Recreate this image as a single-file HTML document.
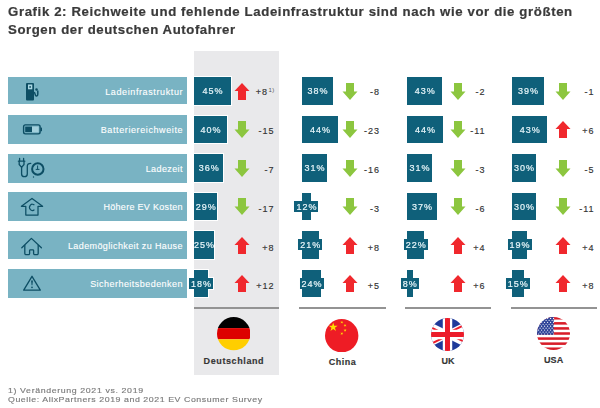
<!DOCTYPE html>
<html><head><meta charset="utf-8">
<style>
*{margin:0;padding:0;box-sizing:border-box}
html,body{width:600px;height:408px;overflow:hidden;background:#fff}
body{position:relative;font-family:"Liberation Sans",sans-serif;color:#333}
.a{position:absolute}
.t{position:absolute;left:8px;font-weight:bold;font-size:12px;color:#3a3a3a;white-space:nowrap;line-height:14px;letter-spacing:0.52px;transform:scaleX(1.1);transform-origin:0 0;-webkit-text-stroke:0.2px #3a3a3a}
.t1{letter-spacing:0.56px}
.gcol{position:absolute;left:194px;top:50.5px;width:85px;height:324.5px;background:#e9e9eb}
.lb{position:absolute;left:8px;width:179px;background:#79b3c3}
.lt{position:absolute;right:5px;color:#fff;font-size:9px;white-space:nowrap;line-height:11px;-webkit-text-stroke:0.12px #fff}
.cell{position:absolute;left:0;top:0;filter:drop-shadow(1px 0 0 #fff) drop-shadow(-1px 0 0 #fff) drop-shadow(0 1px 0 #fff) drop-shadow(0 -1px 0 #fff)}
.bx{position:absolute;height:27.8px;background:#0f607a}
.pt{position:absolute;color:#e8f6fa;font-size:9px;line-height:9.6px;height:11px;padding-top:2.3px;letter-spacing:1px;white-space:nowrap;padding-left:2px;padding-right:1px;transform:translateX(-50%);-webkit-text-stroke:0.2px #e8f6fa}
.bgx{background:#0f607a}
.v{position:absolute;font-size:9px;color:#333;white-space:nowrap;line-height:11px;text-align:right;letter-spacing:1px;-webkit-text-stroke:0.15px #333}
.sep{position:absolute;top:307.2px;height:1.8px;background:#939393}
.fn{position:absolute;font-weight:bold;font-size:9px;color:#353535;white-space:nowrap;line-height:11px;-webkit-text-stroke:0.15px #353535}
.foot{position:absolute;left:8px;font-size:8px;color:#7a7a7a;white-space:nowrap;line-height:9px;letter-spacing:0.5px;transform:scaleX(1.1);transform-origin:0 0;-webkit-text-stroke:0.15px #7a7a7a}
</style></head><body>
<div class="t t1" style="top:5px">Grafik 2: Reichweite und fehlende Ladeinfrastruktur sind nach wie vor die größten</div>
<div class="t" style="top:23px">Sorgen der deutschen Autofahrer</div>
<div class="gcol"></div>
<div class="lb" style="top:77.3px;height:26.5px"><span class="lt" style="top:9.38px;letter-spacing:0.61px;right:3.89px">Ladeinfrastruktur</span></div>
<div class="lb" style="top:115px;height:28.5px"><span class="lt" style="top:10.18px;letter-spacing:0.6px;right:3.90px">Batteriereichweite</span></div>
<div class="lb" style="top:154px;height:28.5px"><span class="lt" style="top:9.68px;letter-spacing:0.4px;right:4.10px">Ladezeit</span></div>
<div class="lb" style="top:192px;height:28.5px"><span class="lt" style="top:9.68px;letter-spacing:0.3px;right:4.20px">Höhere EV Kosten</span></div>
<div class="lb" style="top:231px;height:28px"><span class="lt" style="top:9.68px;letter-spacing:0.39px;right:4.11px">Lademöglichkeit zu Hause</span></div>
<div class="lb" style="top:269px;height:28.5px"><span class="lt" style="top:9.68px;letter-spacing:0.46px;right:4.04px">Sicherheitsbedenken</span></div>

<svg class="a" style="left:0;top:0" width="60" height="300" viewBox="0 0 60 300">
 <!-- fuel pump -->
 <rect x="26" y="83" width="8" height="17.5" rx="1" fill="#0d4e64"/>
 <rect x="28" y="84.5" width="4.3" height="4.8" fill="#a9d6e2"/>
 <circle cx="30.1" cy="86.9" r="0.9" fill="#0d4e64"/>
 <path d="M33.6 92.2 C35 92.2 35.1 93.6 35.3 94.8 C35.6 96.4 37.8 96.4 37.8 94.2 V91" fill="none" stroke="#0d4e64" stroke-width="1.5" stroke-linecap="round"/>
 <circle cx="36.5" cy="89.5" r="1.25" fill="#0d4e64"/>
 <!-- battery -->
 <rect x="23.6" y="124.9" width="16.5" height="9" rx="1.8" fill="none" stroke="#0d4e64" stroke-width="1.4"/>
 <rect x="25.2" y="126.6" width="6.8" height="5.5" fill="#0d4e64"/>
 <rect x="32" y="126.6" width="6.6" height="5.5" fill="#a3d0dc"/>
 <rect x="40.6" y="127.6" width="1.4" height="3.6" fill="#0d4e64"/>
 <!-- plug + clock -->
 <g fill="none" stroke="#0d4e64" stroke-width="1.3" stroke-linecap="round" stroke-linejoin="round">
  <path d="M19.6 158.4V160.8M23.6 158.4V160.8"/>
  <path d="M18.4 161.2H24.8M19.2 161.2V164.5L21.6 167.4L24 164.5V161.2"/>
  <path d="M21.6 167.4V174Q21.6 176.7 24.4 176.7Q27.3 176.7 27.3 174V166Q27.3 163.3 30.8 163.3"/>
  <circle cx="37.8" cy="169" r="5.7" stroke-width="2"/>
  <path d="M37.6 165.9V169.2M36.1 169.4H39.1" stroke-width="1"/>
 </g>
 <circle cx="33.5" cy="177" r="0.7" fill="#0d4e64"/>
 <!-- house with C -->
 <path d="M25.8 215V206.3H21.4L32 198.5L42.6 206.3H38V215Z" fill="none" stroke="#0d4e64" stroke-width="1.25" stroke-linejoin="round"/>
 <path d="M34.4 205.2A2.8 3.2 0 1 0 34.4 209.6" fill="none" stroke="#0d4e64" stroke-width="1.15"/>
 <!-- house -->
 <path d="M21.8 247.8L31.4 238.4L41.4 247.8" fill="none" stroke="#0d4e64" stroke-width="1.3" stroke-linecap="round" stroke-linejoin="round"/>
 <path d="M24.8 245V253.6Q24.8 254.6 25.8 254.6H28.8Q29.6 254.6 29.6 253.6V250.6Q29.6 249.8 30.4 249.8H32.8Q33.6 249.8 33.6 250.6V253.6Q33.6 254.6 34.6 254.6H37.2Q38.2 254.6 38.2 253.6V245" fill="none" stroke="#0d4e64" stroke-width="1.3" stroke-linejoin="round"/>
 <!-- warning -->
 <path d="M32 276.3L40.3 290.2H23.7Z" fill="none" stroke="#0d4e64" stroke-width="1.3" stroke-linejoin="round"/>
 <path d="M31.1 280.6H32.9L32.4 285.2H31.6Z" fill="#0d4e64"/>
 <circle cx="32" cy="287.3" r="0.85" fill="#0d4e64"/>
</svg>
<div class="cell"><div class="bx" style="left:194px;top:77px;width:37.1px"></div><div class="pt" style="left:212.6px;top:85.20px">45%</div></div>
<svg class="a" style="left:233.8px;top:82.5px" width="16" height="17" viewBox="0 0 16 17"><path d="M8 0L15.5 8H12V17H4V8H0.5Z" fill="#f0282d"/></svg>
<div class="v" style="right:325.5px;top:87.4px">+8<span style="font-size:6px;position:relative;top:-3px;margin-left:0.5px;letter-spacing:0.3px;color:#555;-webkit-text-stroke:0">1)</span></div>
<div class="cell"><div class="bx" style="left:194px;top:115.5px;width:32.8px"></div><div class="pt" style="left:210.4px;top:123.70px">40%</div></div>
<svg class="a" style="left:233.8px;top:121.0px" width="16" height="17" viewBox="0 0 16 17"><path d="M4 0H12V8.5H15.5L8 17L0.5 8.5H4Z" fill="#8cc63f"/></svg>
<div class="v" style="right:325.5px;top:126.0px">-15</div>
<div class="cell"><div class="bx" style="left:194px;top:154px;width:29.4px"></div><div class="pt" style="left:208.7px;top:162.20px">36%</div></div>
<svg class="a" style="left:233.8px;top:159.5px" width="16" height="17" viewBox="0 0 16 17"><path d="M4 0H12V8.5H15.5L8 17L0.5 8.5H4Z" fill="#8cc63f"/></svg>
<div class="v" style="right:325.5px;top:165.0px">-7</div>
<div class="cell"><div class="bx" style="left:194px;top:192.5px;width:23.4px"></div><div class="pt" style="left:205.7px;top:200.70px">29%</div></div>
<svg class="a" style="left:233.8px;top:198.0px" width="16" height="17" viewBox="0 0 16 17"><path d="M4 0H12V8.5H15.5L8 17L0.5 8.5H4Z" fill="#8cc63f"/></svg>
<div class="v" style="right:325.5px;top:203.8px">-17</div>
<div class="cell"><div class="bx" style="left:194px;top:231px;width:20.0px"></div><div class="pt" style="left:204.0px;top:239.20px">25%</div></div>
<svg class="a" style="left:233.8px;top:236.5px" width="16" height="17" viewBox="0 0 16 17"><path d="M8 0L15.5 8H12V17H4V8H0.5Z" fill="#f0282d"/></svg>
<div class="v" style="right:325.5px;top:242.8px">+8</div>
<div class="cell"><div class="bx" style="left:194px;top:269.5px;width:14.0px"></div><div class="pt bgx" style="left:201.0px;top:277.70px">18%</div></div>
<svg class="a" style="left:233.8px;top:275.0px" width="16" height="17" viewBox="0 0 16 17"><path d="M8 0L15.5 8H12V17H4V8H0.5Z" fill="#f0282d"/></svg>
<div class="v" style="right:325.5px;top:281.4px">+12</div>
<div class="cell"><div class="bx" style="left:302px;top:77px;width:31.1px"></div><div class="pt" style="left:317.6px;top:85.20px">38%</div></div>
<svg class="a" style="left:341.8px;top:82.5px" width="16" height="17" viewBox="0 0 16 17"><path d="M4 0H12V8.5H15.5L8 17L0.5 8.5H4Z" fill="#8cc63f"/></svg>
<div class="v" style="right:220.0px;top:87.4px">-8</div>
<div class="cell"><div class="bx" style="left:302px;top:115.5px;width:36.3px"></div><div class="pt" style="left:320.1px;top:123.70px">44%</div></div>
<svg class="a" style="left:341.8px;top:121.0px" width="16" height="17" viewBox="0 0 16 17"><path d="M4 0H12V8.5H15.5L8 17L0.5 8.5H4Z" fill="#8cc63f"/></svg>
<div class="v" style="right:220.0px;top:126.0px">-23</div>
<div class="cell"><div class="bx" style="left:302px;top:154px;width:25.1px"></div><div class="pt" style="left:314.6px;top:162.20px">31%</div></div>
<svg class="a" style="left:341.8px;top:159.5px" width="16" height="17" viewBox="0 0 16 17"><path d="M4 0H12V8.5H15.5L8 17L0.5 8.5H4Z" fill="#8cc63f"/></svg>
<div class="v" style="right:220.0px;top:165.0px">-16</div>
<div class="cell"><div class="bx" style="left:302px;top:192.5px;width:8.9px"></div><div class="pt bgx" style="left:306.4px;top:200.70px">12%</div></div>
<svg class="a" style="left:341.8px;top:198.0px" width="16" height="17" viewBox="0 0 16 17"><path d="M4 0H12V8.5H15.5L8 17L0.5 8.5H4Z" fill="#8cc63f"/></svg>
<div class="v" style="right:220.0px;top:203.8px">-3</div>
<div class="cell"><div class="bx" style="left:302px;top:231px;width:16.6px"></div><div class="pt bgx" style="left:310.3px;top:239.20px">21%</div></div>
<svg class="a" style="left:341.8px;top:236.5px" width="16" height="17" viewBox="0 0 16 17"><path d="M8 0L15.5 8H12V17H4V8H0.5Z" fill="#f0282d"/></svg>
<div class="v" style="right:220.0px;top:242.8px">+8</div>
<div class="cell"><div class="bx" style="left:302px;top:269.5px;width:19.2px"></div><div class="pt bgx" style="left:311.6px;top:277.70px">24%</div></div>
<svg class="a" style="left:341.8px;top:275.0px" width="16" height="17" viewBox="0 0 16 17"><path d="M8 0L15.5 8H12V17H4V8H0.5Z" fill="#f0282d"/></svg>
<div class="v" style="right:220.0px;top:281.4px">+5</div>
<div class="cell"><div class="bx" style="left:407px;top:77px;width:35.4px"></div><div class="pt" style="left:424.7px;top:85.20px">43%</div></div>
<svg class="a" style="left:449.5px;top:82.5px" width="16" height="17" viewBox="0 0 16 17"><path d="M4 0H12V8.5H15.5L8 17L0.5 8.5H4Z" fill="#8cc63f"/></svg>
<div class="v" style="right:114.5px;top:87.4px">-2</div>
<div class="cell"><div class="bx" style="left:407px;top:115.5px;width:36.3px"></div><div class="pt" style="left:425.1px;top:123.70px">44%</div></div>
<svg class="a" style="left:449.5px;top:121.0px" width="16" height="17" viewBox="0 0 16 17"><path d="M4 0H12V8.5H15.5L8 17L0.5 8.5H4Z" fill="#8cc63f"/></svg>
<div class="v" style="right:114.5px;top:126.0px">-11</div>
<div class="cell"><div class="bx" style="left:407px;top:154px;width:25.1px"></div><div class="pt" style="left:419.6px;top:162.20px">31%</div></div>
<svg class="a" style="left:449.5px;top:159.5px" width="16" height="17" viewBox="0 0 16 17"><path d="M4 0H12V8.5H15.5L8 17L0.5 8.5H4Z" fill="#8cc63f"/></svg>
<div class="v" style="right:114.5px;top:165.0px">-3</div>
<div class="cell"><div class="bx" style="left:407px;top:192.5px;width:30.3px"></div><div class="pt" style="left:422.1px;top:200.70px">37%</div></div>
<svg class="a" style="left:449.5px;top:198.0px" width="16" height="17" viewBox="0 0 16 17"><path d="M4 0H12V8.5H15.5L8 17L0.5 8.5H4Z" fill="#8cc63f"/></svg>
<div class="v" style="right:114.5px;top:203.8px">-6</div>
<div class="cell"><div class="bx" style="left:407px;top:231px;width:17.4px"></div><div class="pt bgx" style="left:415.7px;top:239.20px">22%</div></div>
<svg class="a" style="left:449.5px;top:236.5px" width="16" height="17" viewBox="0 0 16 17"><path d="M8 0L15.5 8H12V17H4V8H0.5Z" fill="#f0282d"/></svg>
<div class="v" style="right:114.5px;top:242.8px">+4</div>
<div class="cell"><div class="bx" style="left:407px;top:269.5px;width:5.5px"></div><div class="pt bgx" style="left:409.8px;top:277.70px">8%</div></div>
<svg class="a" style="left:449.5px;top:275.0px" width="16" height="17" viewBox="0 0 16 17"><path d="M8 0L15.5 8H12V17H4V8H0.5Z" fill="#f0282d"/></svg>
<div class="v" style="right:114.5px;top:281.4px">+6</div>
<div class="cell"><div class="bx" style="left:512px;top:77px;width:32.0px"></div><div class="pt" style="left:528.0px;top:85.20px">39%</div></div>
<svg class="a" style="left:555px;top:82.5px" width="16" height="17" viewBox="0 0 16 17"><path d="M4 0H12V8.5H15.5L8 17L0.5 8.5H4Z" fill="#8cc63f"/></svg>
<div class="v" style="right:5.5px;top:87.4px">-1</div>
<div class="cell"><div class="bx" style="left:512px;top:115.5px;width:35.4px"></div><div class="pt" style="left:529.7px;top:123.70px">43%</div></div>
<svg class="a" style="left:555px;top:121.0px" width="16" height="17" viewBox="0 0 16 17"><path d="M8 0L15.5 8H12V17H4V8H0.5Z" fill="#f0282d"/></svg>
<div class="v" style="right:5.5px;top:126.0px">+6</div>
<div class="cell"><div class="bx" style="left:512px;top:154px;width:24.3px"></div><div class="pt" style="left:524.1px;top:162.20px">30%</div></div>
<svg class="a" style="left:555px;top:159.5px" width="16" height="17" viewBox="0 0 16 17"><path d="M4 0H12V8.5H15.5L8 17L0.5 8.5H4Z" fill="#8cc63f"/></svg>
<div class="v" style="right:5.5px;top:165.0px">-5</div>
<div class="cell"><div class="bx" style="left:512px;top:192.5px;width:24.3px"></div><div class="pt" style="left:524.1px;top:200.70px">30%</div></div>
<svg class="a" style="left:555px;top:198.0px" width="16" height="17" viewBox="0 0 16 17"><path d="M4 0H12V8.5H15.5L8 17L0.5 8.5H4Z" fill="#8cc63f"/></svg>
<div class="v" style="right:5.5px;top:203.8px">-11</div>
<div class="cell"><div class="bx" style="left:512px;top:231px;width:14.9px"></div><div class="pt bgx" style="left:519.5px;top:239.20px">19%</div></div>
<svg class="a" style="left:555px;top:236.5px" width="16" height="17" viewBox="0 0 16 17"><path d="M8 0L15.5 8H12V17H4V8H0.5Z" fill="#f0282d"/></svg>
<div class="v" style="right:5.5px;top:242.8px">+4</div>
<div class="cell"><div class="bx" style="left:512px;top:269.5px;width:11.5px"></div><div class="pt bgx" style="left:517.8px;top:277.70px">15%</div></div>
<svg class="a" style="left:555px;top:275.0px" width="16" height="17" viewBox="0 0 16 17"><path d="M8 0L15.5 8H12V17H4V8H0.5Z" fill="#f0282d"/></svg>
<div class="v" style="right:5.5px;top:281.4px">+8</div>
<div class="sep" style="left:194px;width:85px"></div>
<div class="sep" style="left:299px;width:87px"></div>
<div class="sep" style="left:405px;width:86px"></div>
<div class="sep" style="left:511px;width:86px"></div>
<svg class="a" style="left:216.9px;top:317.4px" width="33.4" height="33.4" viewBox="0 0 33.4 33.4"><defs><clipPath id="cde"><circle cx="16.7" cy="16.7" r="16.7"/></clipPath></defs><g clip-path="url(#cde)"><rect width="34" height="11.1" fill="#000"/><rect y="11.1" width="34" height="11.2" fill="#dd0000"/><rect y="22.3" width="34" height="11.2" fill="#ffce00"/></g></svg>
<svg class="a" style="left:325.4px;top:319px" width="33.4" height="33.4" viewBox="0 0 33.4 33.4"><circle cx="16.7" cy="16.7" r="16.7" fill="#ee1c25"/><polygon points="8.20,3.50 9.26,6.75 12.67,6.75 9.91,8.75 10.96,12.00 8.20,10.00 5.44,12.00 6.49,8.75 3.73,6.75 7.14,6.75" fill="#ffde00"/><polygon points="17.35,1.80 17.31,2.96 18.40,3.36 17.28,3.68 17.24,4.84 16.59,3.87 15.47,4.19 16.19,3.28 15.54,2.31 16.63,2.71" fill="#ffde00"/><polygon points="21.23,5.37 20.70,6.40 21.53,7.23 20.38,7.04 19.85,8.08 19.67,6.93 18.52,6.75 19.56,6.22 19.37,5.07 20.20,5.90" fill="#ffde00"/><polygon points="20.10,9.70 20.46,10.81 21.62,10.81 20.68,11.49 21.04,12.59 20.10,11.91 19.16,12.59 19.52,11.49 18.58,10.81 19.74,10.81" fill="#ffde00"/><polygon points="17.35,13.10 17.31,14.26 18.40,14.66 17.28,14.98 17.24,16.14 16.59,15.17 15.47,15.49 16.19,14.58 15.54,13.61 16.63,14.01" fill="#ffde00"/></svg>
<svg class="a" style="left:431.4px;top:318px" width="33" height="33" viewBox="0 0 33 33"><defs><clipPath id="cuk"><circle cx="16.5" cy="16.5" r="16.5"/></clipPath><clipPath id="tuk"><path d="M30,15 h30 v15 z v15 h-30 z h-30 v-15 z v-15 h30 z"/></clipPath></defs><g clip-path="url(#cuk)"><g transform="translate(-16.5,0) scale(1.1)">
<rect width="60" height="30" fill="#1f3a9a"/>
<path d="M0,0 L60,30 M60,0 L0,30" stroke="#fff" stroke-width="6"/>
<path d="M0,0 L60,30 M60,0 L0,30" clip-path="url(#tuk)" stroke="#ec1c2a" stroke-width="3.6"/>
<path d="M30,0 v30 M0,15 h60" stroke="#fff" stroke-width="8.6"/>
<path d="M30,0 v30 M0,15 h60" stroke="#ec1c2a" stroke-width="4.6"/></g></g></svg>
<svg class="a" style="left:537.4px;top:317px" width="33" height="33" viewBox="0 0 33 33"><defs><clipPath id="cus"><circle cx="16.5" cy="16.5" r="16.5"/></clipPath></defs><g clip-path="url(#cus)"><rect width="33" height="33" fill="#fff"/><rect y="0.00" width="33" height="2.54" fill="#d81e2a"/><rect y="5.08" width="33" height="2.54" fill="#d81e2a"/><rect y="10.15" width="33" height="2.54" fill="#d81e2a"/><rect y="15.23" width="33" height="2.54" fill="#d81e2a"/><rect y="20.31" width="33" height="2.54" fill="#d81e2a"/><rect y="25.38" width="33" height="2.54" fill="#d81e2a"/><rect y="30.46" width="33" height="2.54" fill="#d81e2a"/><rect width="16.7" height="17.8" fill="#2f4499"/><circle cx="1.60" cy="1.40" r="0.6" fill="#fff"/><circle cx="4.60" cy="1.40" r="0.6" fill="#fff"/><circle cx="7.60" cy="1.40" r="0.6" fill="#fff"/><circle cx="10.60" cy="1.40" r="0.6" fill="#fff"/><circle cx="13.60" cy="1.40" r="0.6" fill="#fff"/><circle cx="16.60" cy="1.40" r="0.6" fill="#fff"/><circle cx="3.10" cy="3.35" r="0.6" fill="#fff"/><circle cx="6.10" cy="3.35" r="0.6" fill="#fff"/><circle cx="9.10" cy="3.35" r="0.6" fill="#fff"/><circle cx="12.10" cy="3.35" r="0.6" fill="#fff"/><circle cx="15.10" cy="3.35" r="0.6" fill="#fff"/><circle cx="1.60" cy="5.30" r="0.6" fill="#fff"/><circle cx="4.60" cy="5.30" r="0.6" fill="#fff"/><circle cx="7.60" cy="5.30" r="0.6" fill="#fff"/><circle cx="10.60" cy="5.30" r="0.6" fill="#fff"/><circle cx="13.60" cy="5.30" r="0.6" fill="#fff"/><circle cx="16.60" cy="5.30" r="0.6" fill="#fff"/><circle cx="3.10" cy="7.25" r="0.6" fill="#fff"/><circle cx="6.10" cy="7.25" r="0.6" fill="#fff"/><circle cx="9.10" cy="7.25" r="0.6" fill="#fff"/><circle cx="12.10" cy="7.25" r="0.6" fill="#fff"/><circle cx="15.10" cy="7.25" r="0.6" fill="#fff"/><circle cx="1.60" cy="9.20" r="0.6" fill="#fff"/><circle cx="4.60" cy="9.20" r="0.6" fill="#fff"/><circle cx="7.60" cy="9.20" r="0.6" fill="#fff"/><circle cx="10.60" cy="9.20" r="0.6" fill="#fff"/><circle cx="13.60" cy="9.20" r="0.6" fill="#fff"/><circle cx="16.60" cy="9.20" r="0.6" fill="#fff"/><circle cx="3.10" cy="11.15" r="0.6" fill="#fff"/><circle cx="6.10" cy="11.15" r="0.6" fill="#fff"/><circle cx="9.10" cy="11.15" r="0.6" fill="#fff"/><circle cx="12.10" cy="11.15" r="0.6" fill="#fff"/><circle cx="15.10" cy="11.15" r="0.6" fill="#fff"/><circle cx="1.60" cy="13.10" r="0.6" fill="#fff"/><circle cx="4.60" cy="13.10" r="0.6" fill="#fff"/><circle cx="7.60" cy="13.10" r="0.6" fill="#fff"/><circle cx="10.60" cy="13.10" r="0.6" fill="#fff"/><circle cx="13.60" cy="13.10" r="0.6" fill="#fff"/><circle cx="16.60" cy="13.10" r="0.6" fill="#fff"/><circle cx="3.10" cy="15.05" r="0.6" fill="#fff"/><circle cx="6.10" cy="15.05" r="0.6" fill="#fff"/><circle cx="9.10" cy="15.05" r="0.6" fill="#fff"/><circle cx="12.10" cy="15.05" r="0.6" fill="#fff"/><circle cx="15.10" cy="15.05" r="0.6" fill="#fff"/><circle cx="1.60" cy="17.00" r="0.6" fill="#fff"/><circle cx="4.60" cy="17.00" r="0.6" fill="#fff"/><circle cx="7.60" cy="17.00" r="0.6" fill="#fff"/><circle cx="10.60" cy="17.00" r="0.6" fill="#fff"/><circle cx="13.60" cy="17.00" r="0.6" fill="#fff"/><circle cx="16.60" cy="17.00" r="0.6" fill="#fff"/></g></svg>
<div class="fn" style="left:203.6px;top:356.4px;letter-spacing:0.6px">Deutschland</div>
<div class="fn" style="left:328.8px;top:357.4px;letter-spacing:0.5px">China</div>
<div class="fn" style="left:441.5px;top:356.4px">UK</div>
<div class="fn" style="left:543.9px;top:355.1px;letter-spacing:0.15px">USA</div>
<div class="foot" style="top:386px;letter-spacing:0.56px">1) Veränderung 2021 vs. 2019</div>
<div class="foot" style="top:395px">Quelle: AlixPartners 2019 and 2021 EV Consumer Survey</div>
</body></html>
